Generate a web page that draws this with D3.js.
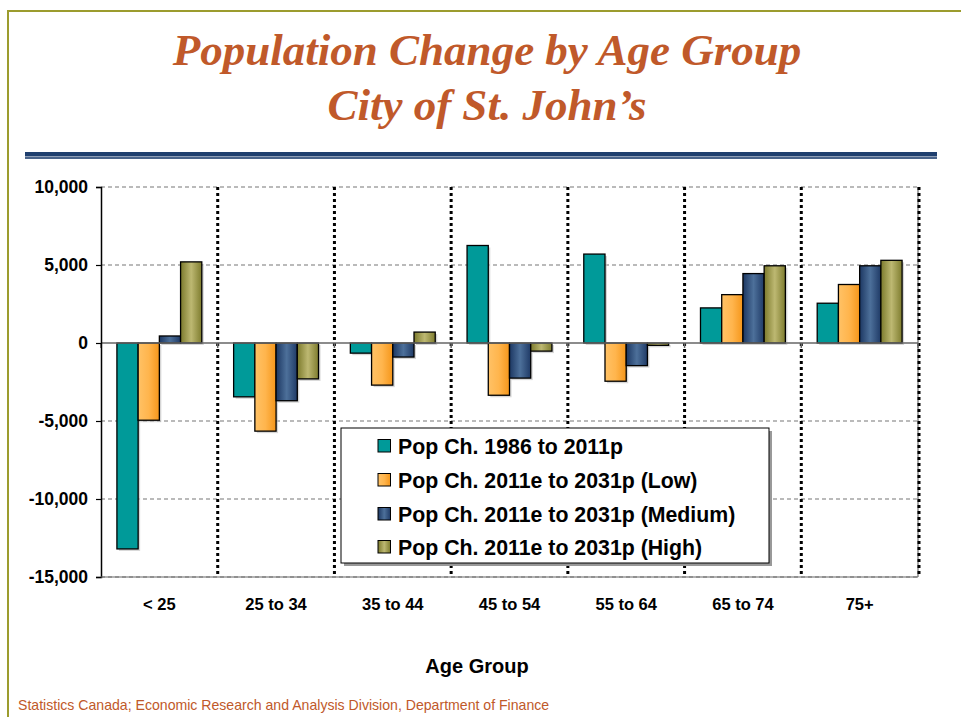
<!DOCTYPE html>
<html><head><meta charset="utf-8">
<script src="https://cdn.jsdelivr.net/npm/d3@7"></script>
<style>body{margin:0;background:#fff}svg{display:block}</style>
</head><body>
<svg id="c" width="961" height="717"></svg>
<script>
const categories = ["< 25","25 to 34","35 to 44","45 to 54","55 to 64","65 to 74","75+"];
const seriesNames = ["Pop Ch. 1986 to 2011p","Pop Ch. 2011e to 2031p (Low)","Pop Ch. 2011e to 2031p (Medium)","Pop Ch. 2011e to 2031p (High)"];
const popChHist = [-13200,-3450,-650,6250,5700,2250,2550];
const popChLow = [-4950,-5650,-2700,-3350,-2450,3100,3750];
const popChMedium = [450,-3700,-900,-2250,-1450,4450,4950];
const popChHigh = [5200,-2300,700,-520,-150,4950,5300];
const yTicks = [-15000,-10000,-5000,0,5000,10000];
const seriesValues = [popChHist,popChLow,popChMedium,popChHigh];

const svg = d3.select("#c");
const defs = svg.append("defs");
function hgrad(id, stops){
  const g = defs.append("linearGradient").attr("id",id).attr("x1","0").attr("x2","1").attr("y1","0").attr("y2","0");
  stops.forEach(s=>g.append("stop").attr("offset",s[0]).attr("stop-color",s[1]));
}
hgrad("gTeal",[[0,"#009A99"],[1,"#009A99"]]);
hgrad("gOrange",[[0,"#FFC266"],[0.5,"#FFB54D"],[1,"#F5961A"]]);
hgrad("gBlue",[[0,"#1C3762"],[0.5,"#4D709A"],[1,"#1F3A66"]]);
hgrad("gOlive",[[0,"#7C7A2C"],[0.5,"#BDB872"],[1,"#7E7C2E"]]);
const fills = ["url(#gTeal)","url(#gOrange)","url(#gBlue)","url(#gOlive)"];

const SANS = "Arial,'Liberation Sans',sans-serif";
const fmt = v => d3.format(",")(v).replace("\u2212","-");

// frame
svg.append("rect").attr("x",8).attr("y",11).attr("width",970).attr("height",720)
  .attr("fill","none").attr("stroke","#9C9C2E").attr("stroke-width",2);

// title
const title = svg.append("text").attr("text-anchor","middle")
  .attr("font-family","'Times New Roman','Liberation Serif',serif")
  .attr("font-style","italic").attr("font-weight","bold").attr("font-size",45).attr("fill","#C0592A");
title.append("tspan").attr("x",487).attr("y",65).text("Population Change by Age Group");
title.append("tspan").attr("x",487).attr("y",120).text("City of St. John\u2019s");

// double rule
svg.append("rect").attr("x",25).attr("y",152).attr("width",912).attr("height",4.5).attr("fill","#1F3F6E");
svg.append("rect").attr("x",25).attr("y",157.2).attr("width",912).attr("height",1.6).attr("fill","#1F3F6E");

const L=101,R=918,T=187,B=577;
const x = d3.scaleBand().domain(categories).range([L,R]).paddingInner(0).paddingOuter(0);
const y = d3.scaleLinear().domain([-15000,10000]).range([B,T]);
const inner = d3.scaleBand().domain(d3.range(4)).range([0,x.bandwidth()]).paddingInner(0).paddingOuter(0.75);

const g = svg.append("g");
g.selectAll(".hg").data(yTicks.filter(v=>v!==0)).join("line")
  .attr("x1",L).attr("x2",R).attr("y1",d=>y(d)).attr("y2",d=>y(d))
  .attr("stroke","#777").attr("stroke-width",1.2).attr("stroke-dasharray","4,3");
g.append("line").attr("x1",R).attr("x2",R).attr("y1",T).attr("y2",B).attr("stroke","#888").attr("stroke-width",1.5);
const seps = categories.slice(1).map(c=>x(c)).concat([R+1]);
g.selectAll(".vg").data(seps).join("line")
  .attr("x1",d=>d).attr("x2",d=>d).attr("y1",T).attr("y2",B)
  .attr("stroke","#000").attr("stroke-width",3).attr("stroke-dasharray","3,3");

// bars
const groups = g.selectAll(".grp").data(categories).join("g").attr("transform",d=>`translate(${x(d)},0)`);
seriesValues.forEach((vals,si)=>{
  groups.append("rect")
    .attr("x",inner(si)+2).attr("width",inner.bandwidth())
    .attr("y",(d,i)=>Math.min(y(vals[i]),y(0))+2).attr("height",(d,i)=>Math.abs(y(vals[i])-y(0)))
    .attr("fill","#bbb").attr("opacity",0.6);
});
seriesValues.forEach((vals,si)=>{
  groups.append("rect")
    .attr("x",inner(si)).attr("width",inner.bandwidth())
    .attr("y",(d,i)=>Math.min(y(vals[i]),y(0))).attr("height",(d,i)=>Math.abs(y(vals[i])-y(0)))
    .attr("fill",fills[si]).attr("stroke","#000").attr("stroke-width",1.3);
});

g.append("line").attr("x1",L).attr("x2",R).attr("y1",y(0)).attr("y2",y(0)).attr("stroke","#666").attr("stroke-width",1.5);
g.selectAll(".zt").data(d3.range(8)).join("line")
  .attr("x1",i=>L+i*x.bandwidth()).attr("x2",i=>L+i*x.bandwidth())
  .attr("y1",y(0)).attr("y2",y(0)+5).attr("stroke","#666").attr("stroke-width",1.5);

// y axis
const yAxis = d3.axisLeft(y).tickValues(yTicks).tickSize(5).tickFormat(fmt);
const ya = svg.append("g").attr("transform",`translate(${L},0)`).call(yAxis);
ya.select(".domain").attr("stroke","#000").attr("stroke-width",1.5);
ya.selectAll(".tick line").attr("stroke","#000").attr("stroke-width",1.2);
ya.selectAll(".tick text").attr("x",-13).attr("font-family",SANS)
  .attr("font-weight","bold").attr("font-size",17.5).attr("fill","#000");
svg.append("line").attr("x1",L).attr("x2",R).attr("y1",B).attr("y2",B).attr("stroke","#666").attr("stroke-width",1.2);

// x labels
const xAxis = d3.axisBottom(x).tickSize(0).tickPadding(21);
const xa = svg.append("g").attr("transform",`translate(0,${B})`).call(xAxis);
xa.select(".domain").remove();
xa.selectAll(".tick text").attr("font-family",SANS)
  .attr("font-weight","bold").attr("font-size",16.5).attr("fill","#000");

svg.append("text").attr("x",477).attr("y",673).attr("text-anchor","middle")
  .attr("font-family",SANS).attr("font-weight","bold").attr("font-size",20)
  .text("Age Group");

// legend
const lg = svg.append("g");
lg.append("rect").attr("x",344).attr("y",431).attr("width",428).attr("height",135).attr("fill","#999");
lg.append("rect").attr("x",341).attr("y",428).attr("width",428).attr("height",135).attr("fill","#fff").attr("stroke","#000").attr("stroke-width",1);
const rowY = [446,480,514,547];
seriesNames.forEach((n,i)=>{
  lg.append("rect").attr("x",378).attr("y",rowY[i]-6.5).attr("width",12.5).attr("height",12.5)
    .attr("fill",fills[i]).attr("stroke","#000").attr("stroke-width",1);
  lg.append("text").attr("x",398).attr("y",rowY[i]+7.5).attr("font-family",SANS)
    .attr("font-weight","bold").attr("font-size",21.3).text(n);
});

// source
svg.append("text").attr("x",18).attr("y",710).attr("font-family",SANS)
  .attr("font-size",14.1).attr("fill","#C0592A")
  .text("Statistics Canada; Economic Research and Analysis Division, Department of Finance");
</script>
</body></html>
